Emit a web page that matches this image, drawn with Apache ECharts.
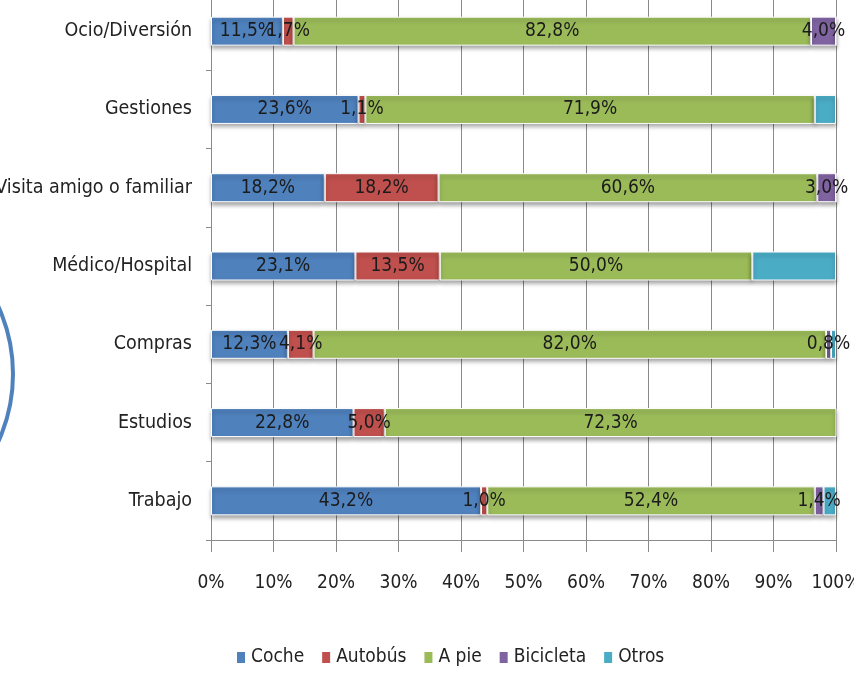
<!DOCTYPE html>
<html>
<head>
<meta charset="utf-8">
<script src="https://cdn.jsdelivr.net/npm/echarts@6/dist/echarts.min.js"></script>
<style>
  html, body { margin: 0; padding: 0; background: #fff; overflow: hidden; }
  /* the source picture is cropped at the top, so the chart starts 8px above the page */
  #chart { position: absolute; left: 0; top: -8px; width: 854px; height: 683px; }
</style>
</head>
<body>
<div id="chart"></div>
<script>
var categories = ['Ocio/Diversión', 'Gestiones', 'Visita amigo o familiar', 'Médico/Hospital', 'Compras', 'Estudios', 'Trabajo']
var seriesNames = ['Coche', 'Autobús', 'A pie', 'Bicicleta', 'Otros']
var coche = [11.5, 23.6, 18.2, 23.1, 12.3, 22.8, 43.2]
var autobus = [1.7, 1.1, 18.2, 13.5, 4.1, 5.0, 1.0]
var aPie = [82.8, 71.9, 60.6, 50.0, 82.0, 72.3, 52.4]
var bicicleta = [4.0, 0, 3.0, 0, 0.8, 0, 1.4]
var otros = [0, 3.4, 0, 13.4, 0.8, 0, 2.0]
var xTicks = [0, 10, 20, 30, 40, 50, 60, 70, 80, 90, 100]

var colors = ['#4F81BD', '#C0504D', '#9BBB59', '#8064A2', '#4BACC6']
var font = '"Liberation Sans Narrow", "DejaVu Sans Condensed", sans-serif'
var values = [coche, autobus, aPie, bicicleta, otros]

var myChart = echarts.init(document.getElementById('chart'))

var series = values.map(function (arr, i) {
  return {
    name: seriesNames[i],
    type: 'bar',
    stack: 'total',
    barWidth: 29,
    itemStyle: {
      color: colors[i],
      borderColor: '#fff',
      borderWidth: 1,
      shadowColor: 'rgba(0,0,0,0.35)',
      shadowBlur: 4,
      shadowOffsetY: 3
    },
    label: {
      // Otros has no labels in the original
      show: i < 4,
      position: 'inside',
      color: '#1b1b1b',
      fontFamily: font,
      fontSize: 19,
      formatter: function (p) {
        if (!p.value) return ''
        return p.value.toFixed(1).replace('.', ',') + '%'
      }
    },
    data: arr
  }
})

var option = {
  animation: false,
  color: colors,
  grid: {
    left: 211,
    right: 18,
    top: 0,
    bottom: 135,
    containLabel: false,
    outerBoundsMode: 'none'
  },
  legend: {
    data: seriesNames,
    top: 651,
    left: 230,
    icon: 'rect',
    itemWidth: 10,
    itemHeight: 13,
    itemGap: 16,
    textStyle: {
      fontFamily: font,
      fontSize: 19,
      color: '#222'
    }
  },
  graphic: [
    {
      type: 'circle',
      shape: { cx: -150, cy: 382, r: 163 },
      style: { fill: 'none', stroke: '#4F81BD', lineWidth: 4 },
      silent: true
    }
  ],
  xAxis: {
    type: 'value',
    min: xTicks[0],
    max: xTicks[xTicks.length - 1],
    interval: 10,
    axisLine: { show: true, lineStyle: { color: '#8a8a8a' } },
    axisTick: { show: true, length: 12, lineStyle: { color: '#8a8a8a' } },
    axisLabel: {
      margin: 34,
      fontFamily: font,
      fontSize: 19,
      color: '#222',
      formatter: '{value}%'
    },
    splitLine: { show: true, lineStyle: { color: '#8a8a8a', width: 1 } }
  },
  yAxis: {
    type: 'category',
    inverse: true,
    data: categories,
    axisLine: { show: true, lineStyle: { color: '#8a8a8a' } },
    axisTick: { show: true, length: 5, lineStyle: { color: '#8a8a8a' } },
    axisLabel: {
      margin: 19,
      fontFamily: font,
      fontSize: 19.5,
      color: '#222'
    }
  },
  series: series
}
myChart.setOption(option)
</script>
</body>
</html>
